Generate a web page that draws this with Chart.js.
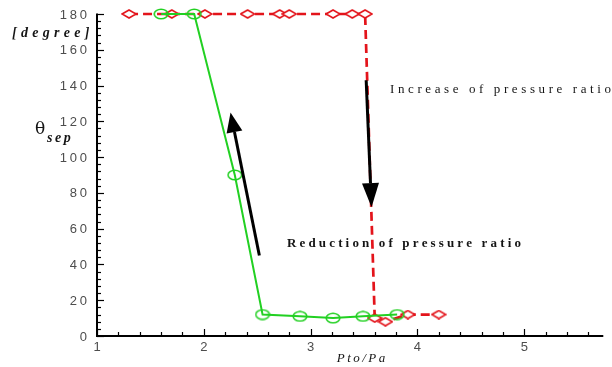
<!DOCTYPE html>
<html>
<head>
<meta charset="utf-8">
<script src="https://cdn.jsdelivr.net/npm/chart.js@4.4.0/dist/chart.umd.min.js"></script>
<style>
  html, body { margin: 0; padding: 0; background: #fff; }
  #grafico { display: block; }
</style>
</head>
<body>
<canvas id="grafico" width="612" height="367"></canvas>
<script>
// Datos
const increaseX = [1.30, 1.70, 2.01, 2.41, 2.71, 2.80, 3.21, 3.39, 3.51, 3.60, 3.70, 3.91, 4.20];
const increaseY = [180, 180, 180, 180, 180, 180, 180, 180, 180, 10, 8, 12, 12];
const reductionX = [1.60, 1.91, 2.29, 2.55, 2.90, 3.21, 3.49, 3.81];
const reductionY = [180, 180, 90, 12, 11, 10, 11, 12];

const xTickValues = [1, 2, 3, 4, 5];
const xTickLabels = ['1', '2', '3', '4', '5'];
const yTickValues = [0, 20, 40, 60, 80, 100, 120, 140, 160, 180];
const yTickLabels = ['0', '20', '40', '60', '80', '100', '120', '140', '160', '180'];

// Flechas en coordenadas de datos
const arrowUp = { from: [2.52, 45], to: [2.25, 125] };
const arrowDown = { from: [3.52, 143], to: [3.57, 72] };

const colores = {
    rojo: '#e3141b',
    verde: '#22d022',
    eje: '#000000',
    ticks: '#4d4d4d',
    texto: '#151515'
};

// Marcadores achatados (rombo y elipse)
function marcadorRombo() {
    const c = document.createElement('canvas');
    c.width = 16; c.height = 10;
    const g = c.getContext('2d');
    g.strokeStyle = colores.rojo;
    g.lineWidth = 1.6;
    g.fillStyle = '#fff';
    g.beginPath();
    g.moveTo(1, 5); g.lineTo(8, 1); g.lineTo(15, 5); g.lineTo(8, 9); g.closePath();
    g.fill();
    g.stroke();
    return c;
}

function marcadorElipse() {
    const c = document.createElement('canvas');
    c.width = 16; c.height = 12;
    const g = c.getContext('2d');
    g.strokeStyle = colores.verde;
    g.lineWidth = 1.6;
    g.beginPath();
    g.ellipse(8, 6, 6.8, 4.8, 0, 0, Math.PI * 2);
    g.stroke();
    return c;
}

function textoEspaciado(ctx, text, x, y, sp, align) {
    const chars = [...text];
    const anchos = chars.map(c => ctx.measureText(c).width);
    const total = anchos.reduce((a, b) => a + b, 0) + sp * (chars.length - 1);
    let cx = align === 'right' ? x - total : align === 'center' ? x - total / 2 : x;
    ctx.textAlign = 'left';
    chars.forEach((c, i) => {
        ctx.fillText(c, cx, y);
        cx += anchos[i] + sp;
    });
}

function dibujarFlecha(ctx, sx, sy, ex, ey, largo, medio) {
    const ang = Math.atan2(ey - sy, ex - sx);
    const bx = ex - Math.cos(ang) * largo;
    const by = ey - Math.sin(ang) * largo;
    ctx.save();
    ctx.strokeStyle = '#000';
    ctx.fillStyle = '#000';
    ctx.lineWidth = 3;
    ctx.beginPath();
    ctx.moveTo(sx, sy);
    ctx.lineTo(bx, by);
    ctx.stroke();
    ctx.beginPath();
    ctx.moveTo(ex, ey);
    ctx.lineTo(bx + Math.sin(ang) * medio, by - Math.cos(ang) * medio);
    ctx.lineTo(bx - Math.sin(ang) * medio, by + Math.cos(ang) * medio);
    ctx.closePath();
    ctx.fill();
    ctx.restore();
}

// Ejes, marcas y etiquetas
const ejesPlugin = {
    id: 'ejes',
    beforeDatasetsDraw(chart) {
        const ctx = chart.ctx;
        const xs = chart.scales.x, ys = chart.scales.y;
        const area = chart.chartArea;
        ctx.save();
        ctx.strokeStyle = colores.eje;
        ctx.lineWidth = 1.2;
        // marcas menores y mayores del eje y
        for (let v = 0; v <= 180; v += 4) {
            const py = Math.round(ys.getPixelForValue(v)) + 0.5;
            const len = v % 20 === 0 ? 7 : 4;
            ctx.beginPath();
            ctx.moveTo(area.left, py);
            ctx.lineTo(area.left + len, py);
            ctx.stroke();
        }
        // marcas del eje x
        for (let i = 0; i * 0.2 + 1 <= xs.max + 1e-6; i++) {
            const v = 1 + i * 0.2;
            const px = Math.round(xs.getPixelForValue(v)) + 0.5;
            const len = i % 5 === 0 ? 7 : 4;
            ctx.beginPath();
            ctx.moveTo(px, area.bottom);
            ctx.lineTo(px, area.bottom - len);
            ctx.stroke();
        }
        // líneas de ejes
        ctx.lineWidth = 2;
        ctx.beginPath();
        ctx.moveTo(area.left, area.top - 0.5);
        ctx.lineTo(area.left, area.bottom);
        ctx.lineTo(area.right, area.bottom);
        ctx.stroke();

        // etiquetas de ticks
        ctx.fillStyle = colores.ticks;
        ctx.font = '13px "Liberation Sans", Arial, sans-serif';
        ctx.textBaseline = 'middle';
        yTickValues.forEach((v, i) => {
            textoEspaciado(ctx, yTickLabels[i], 87, ys.getPixelForValue(v) + 1, 2.8, 'right');
        });
        xTickValues.forEach((v, i) => {
            textoEspaciado(ctx, xTickLabels[i], xs.getPixelForValue(v), area.bottom + 11, 2.8, 'center');
        });

        // títulos
        ctx.fillStyle = colores.texto;
        ctx.textBaseline = 'alphabetic';
        ctx.font = 'bold italic 14px "Liberation Serif", "Times New Roman", serif';
        textoEspaciado(ctx, '[degree]', 12, 37, 4.3, 'left');
        ctx.font = '17px "DejaVu Serif", "Liberation Serif", serif';
        ctx.fillText('θ', 35, 134);
        ctx.font = 'bold italic 14px "Liberation Serif", "Times New Roman", serif';
        textoEspaciado(ctx, 'sep', 47, 142, 2.5, 'left');
        ctx.font = 'italic 13px "Liberation Serif", "Times New Roman", serif';
        textoEspaciado(ctx, 'Pto/Pa', 361, 362, 2.5, 'center');
        ctx.restore();
    },
    afterDatasetsDraw(chart) {
        const ctx = chart.ctx;
        const xs = chart.scales.x, ys = chart.scales.y;
        const px = p => [xs.getPixelForValue(p[0]), ys.getPixelForValue(p[1])];
        const u0 = px(arrowUp.from), u1 = px(arrowUp.to);
        dibujarFlecha(ctx, u0[0], u0[1], u1[0], u1[1], 20, 8);
        const d0 = px(arrowDown.from), d1 = px(arrowDown.to);
        dibujarFlecha(ctx, d0[0], d0[1], d1[0], d1[1], 24, 8.5);

        ctx.save();
        ctx.fillStyle = colores.texto;
        ctx.textBaseline = 'alphabetic';
        ctx.font = '13px "Liberation Serif", "Times New Roman", serif';
        textoEspaciado(ctx, 'Increase of pressure ratio', 390, 93, 3.6, 'left');
        ctx.font = 'bold 13px "Liberation Serif", "Times New Roman", serif';
        textoEspaciado(ctx, 'Reduction of pressure ratio', 287, 247, 3.15, 'left');
        ctx.restore();
    }
};

document.addEventListener('DOMContentLoaded', function () {
    const ctxGrafico = document.getElementById('grafico');
    new Chart(ctxGrafico, {
        type: 'scatter',
        data: {
            datasets: [{
                label: 'Increase',
                data: increaseX.map((x, i) => ({ x: x, y: increaseY[i] })),
                showLine: true,
                borderColor: colores.rojo,
                borderWidth: 2.7,
                borderDash: [9, 5],
                pointStyle: marcadorRombo(),
                pointRadius: 6,
                clip: false,
                order: 1
            }, {
                label: 'Reduction',
                data: reductionX.map((x, i) => ({ x: x, y: reductionY[i] })),
                showLine: true,
                borderColor: colores.verde,
                borderWidth: 2,
                pointStyle: marcadorElipse(),
                pointRadius: 6,
                clip: false,
                order: 0
            }]
        },
        options: {
            responsive: false,
            animation: false,
            events: [],
            layout: {
                padding: { left: 97, top: 14, right: 0, bottom: 31 }
            },
            plugins: {
                legend: { display: false },
                tooltip: { enabled: false }
            },
            scales: {
                x: { type: 'linear', min: 1, max: 5.74, display: false },
                y: { type: 'linear', min: 0, max: 180, display: false }
            }
        },
        plugins: [ejesPlugin]
    });
});
</script>
</body>
</html>
